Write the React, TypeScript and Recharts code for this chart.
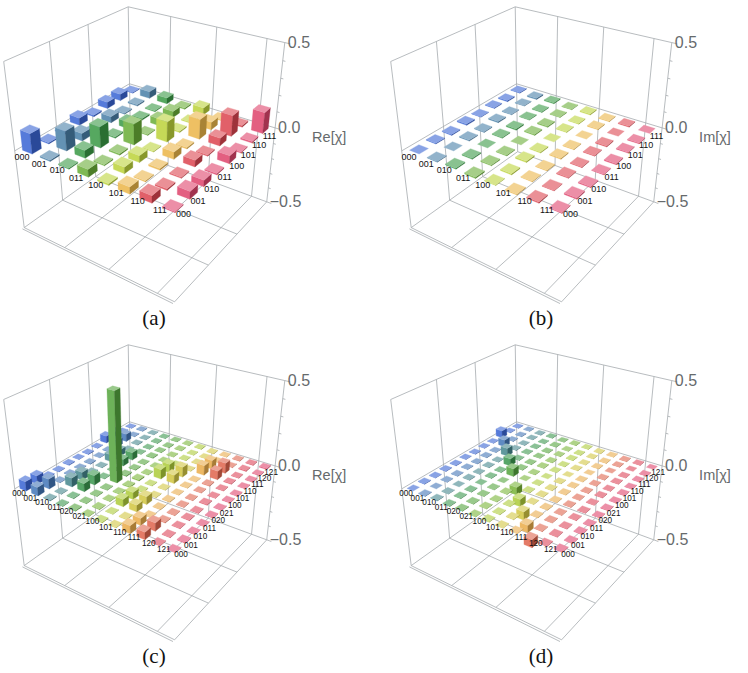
import React from 'react';
import { ScatterChart, Scatter, XAxis, YAxis } from 'recharts';

// basis state names along both floor axes
const basisQubits = ['000', '001', '010', '011', '100', '101', '110', '111'];
const basisMixed = ['000', '001', '010', '011', '020', '021', '100', '101', '110', '111', '120', '121'];

// (a) Re[chi], 8x8
const reChiA = [
  [0.120, 0.008, 0.006, 0.045, 0.010, 0.040, 0.042, 0.005],
  [0.008, 0.118, 0.046, 0.007, 0.038, 0.006, 0.009, 0.044],
  [0.006, 0.046, 0.125, 0.008, 0.041, 0.010, 0.006, 0.037],
  [0.045, 0.007, 0.008, 0.124, 0.005, 0.043, 0.039, 0.008],
  [0.010, 0.038, 0.041, 0.005, 0.121, 0.009, 0.007, 0.046],
  [0.040, 0.006, 0.010, 0.043, 0.009, 0.119, 0.047, 0.006],
  [0.042, 0.009, 0.006, 0.039, 0.007, 0.047, 0.126, 0.010],
  [0.005, 0.044, 0.037, 0.008, 0.046, 0.006, 0.010, 0.128],
];

// (b) Im[chi], 8x8
const imChiB = [
  [0, 0.004, -0.006, 0.008, -0.003, 0.005, -0.007, 0.004],
  [-0.004, 0, 0.006, -0.005, 0.007, -0.004, 0.003, -0.008],
  [0.006, -0.006, 0, 0.005, -0.008, 0.004, -0.005, 0.006],
  [-0.008, 0.005, -0.005, 0, 0.006, -0.007, 0.004, -0.003],
  [0.003, -0.007, 0.008, -0.006, 0, 0.005, -0.004, 0.007],
  [-0.005, 0.004, -0.004, 0.007, -0.005, 0, 0.006, -0.005],
  [0.007, -0.003, 0.005, -0.004, 0.004, -0.006, 0, 0.005],
  [-0.004, 0.008, -0.006, 0.003, -0.007, 0.005, -0.005, 0],
];

// (c) Re[chi], 12x12
const reChiC = [
  [0.055, 0.050, 0.004, -0.003, 0.005, 0.002, -0.004, 0.003, 0.045, 0.042, 0.003, -0.002],
  [0.050, 0.058, -0.003, 0.004, 0.003, -0.004, 0.002, 0.005, 0.040, 0.047, -0.003, 0.004],
  [0.004, -0.003, 0.052, 0.048, 0.004, 0.003, 0.043, 0.040, -0.002, 0.004, 0.003, 0.002],
  [-0.003, 0.004, 0.048, 0.056, -0.004, 0.005, 0.041, 0.046, 0.003, -0.003, 0.004, -0.002],
  [0.005, 0.003, 0.004, -0.004, 0.520, 0.006, 0.004, -0.003, 0.005, 0.003, -0.004, 0.003],
  [0.002, -0.004, 0.003, 0.005, 0.006, 0.008, -0.003, 0.004, 0.002, -0.003, 0.004, 0.003],
  [-0.004, 0.002, 0.043, 0.041, 0.004, -0.003, 0.057, 0.051, 0.004, 0.003, -0.002, 0.004],
  [0.003, 0.005, 0.040, 0.046, -0.003, 0.004, 0.051, 0.060, -0.003, 0.005, 0.003, -0.004],
  [0.045, 0.040, -0.002, 0.003, 0.005, 0.002, 0.004, -0.003, 0.058, 0.052, 0.004, 0.003],
  [0.042, 0.047, 0.004, -0.003, 0.003, -0.003, 0.003, 0.005, 0.052, 0.062, -0.003, 0.004],
  [0.003, -0.003, 0.003, 0.004, -0.004, 0.004, -0.002, 0.003, 0.004, -0.003, 0.006, 0.004],
  [-0.002, 0.004, 0.002, -0.002, 0.003, 0.003, 0.004, -0.004, 0.003, 0.004, 0.004, 0.007],
];

// (d) Im[chi], 12x12
const imChiD = [
  [0, 0.003, -0.002, 0.003, -0.003, 0.002, -0.003, 0.002, -0.002, 0.045, 0.003, -0.002],
  [-0.003, 0, 0.002, -0.003, 0.003, -0.002, 0.003, -0.003, 0.042, 0.002, -0.003, 0.002],
  [0.002, -0.002, 0, 0.003, -0.002, 0.003, -0.002, 0.048, 0.003, -0.002, 0.002, -0.003],
  [-0.003, 0.003, -0.003, 0, 0.002, -0.003, 0.044, -0.002, 0.003, 0.002, -0.002, 0.003],
  [0.003, -0.003, 0.002, -0.002, 0, 0.046, 0.003, -0.003, 0.002, -0.003, 0.003, -0.002],
  [-0.002, 0.002, -0.003, 0.003, -0.046, 0, -0.002, 0.003, -0.003, 0.002, -0.002, 0.003],
  [0.003, -0.003, 0.002, -0.044, -0.003, 0.002, 0, 0.002, -0.002, 0.003, -0.003, 0.002],
  [-0.002, 0.003, -0.048, 0.002, 0.003, -0.003, -0.002, 0, 0.003, -0.002, 0.002, -0.003],
  [0.002, -0.042, -0.003, -0.003, -0.002, 0.003, 0.002, -0.003, 0, 0.003, -0.003, 0.002],
  [-0.045, -0.002, 0.002, -0.002, 0.003, -0.002, -0.003, 0.002, -0.003, 0, 0.002, -0.003],
  [-0.003, 0.003, -0.002, 0.002, -0.003, 0.002, 0.003, -0.002, 0.003, -0.002, 0, 0.003],
  [0.002, -0.002, 0.003, -0.003, 0.002, -0.003, -0.002, 0.003, -0.002, 0.003, -0.003, 0],
];

const zTickValues = [-0.5, 0, 0.5];
const zTickLabels = ['\u22120.5', '0.0', '0.5'];
const zMinorTicks = [-0.4, -0.3, -0.2, -0.1, 0.1, 0.2, 0.3, 0.4];
const wallGridA = [0.3, 0.6, 0.9];
const wallGridB = [0.32, 0.63];

const CHART_W = 360;
const CHART_H = 305;
const VIEW = { az: -55, el: 30, dist: 3.4, scale: 635, cx: 149, cy: 139 };
const ROW_COLORS = ['#3a66d4', '#4a80a8', '#3b9a46', '#6aae38', '#bdd33c', '#ebb64a', '#dc4650', '#df456c'];
const GRID = '#a6abae';
const AXIS_TEXT = '#666a6c';

type P3 = [number, number, number];

// perspective camera looking at the unit box, box coords a,b in [0,1], z in [-0.5,0.5]
function project(a: number, b: number, z: number) {
  const az = (VIEW.az * Math.PI) / 180;
  const el = (VIEW.el * Math.PI) / 180;
  const cam = [
    VIEW.dist * Math.cos(el) * Math.cos(az),
    VIEW.dist * Math.cos(el) * Math.sin(az),
    VIEW.dist * Math.sin(el),
  ];
  const fwd = cam.map((c) => -c / VIEW.dist);
  const right = [-Math.sin(az), Math.cos(az), 0];
  const up = [-Math.cos(az) * Math.sin(el), -Math.sin(az) * Math.sin(el), Math.cos(el)];
  const v = [a - 0.5 - cam[0], b - 0.5 - cam[1], z - cam[2]];
  const dot = (p: number[], q: number[]) => p[0] * q[0] + p[1] * q[1] + p[2] * q[2];
  const depth = dot(v, fwd);
  return {
    x: VIEW.cx + (VIEW.scale * dot(v, right)) / depth,
    y: VIEW.cy - (VIEW.scale * dot(v, up)) / depth,
    depth,
  };
}

const hexRgb = (h: string) => {
  const v = parseInt(h.slice(1), 16);
  return [(v >> 16) & 255, (v >> 8) & 255, v & 255];
};
const mix = (c: number[], d: number[], t: number) => c.map((x, k) => Math.round(x + (d[k] - x) * t));
const rgb = (c: number[]) => `rgb(${c.join(',')})`;
const WHITE = [255, 255, 255];
const BLACK = [0, 0, 0];

function rowColor(i: number, n: number) {
  const t = (i * (ROW_COLORS.length - 1)) / (n - 1);
  const k = Math.min(Math.floor(t), ROW_COLORS.length - 2);
  return mix(hexRgb(ROW_COLORS[k]), hexRgb(ROW_COLORS[k + 1]), t - k);
}

function boxSegments(): [P3, P3][] {
  const s: [P3, P3][] = [];
  // back-left wall (a = 0)
  s.push([[0, 0, -0.5], [0, 0, 0.5]], [[0, 1, -0.5], [0, 1, 0.5]], [[0, 0, 0.5], [0, 1, 0.5]]);
  s.push([[0, 0, -0.5], [0, 1, -0.5]], [[0, 0, 0], [0, 1, 0]]);
  wallGridB.forEach((b) => s.push([[0, b, -0.5], [0, b, 0.5]], [[0, b, -0.5], [1, b, -0.5]]));
  // back-right wall (b = 1)
  s.push([[1, 1, -0.5], [1, 1, 0.5]], [[0, 1, 0.5], [1, 1, 0.5]], [[0, 1, -0.5], [1, 1, -0.5]], [[0, 1, 0], [1, 1, 0]]);
  wallGridA.forEach((a) => s.push([[a, 1, -0.5], [a, 1, 0.5]], [[a, 0, -0.5], [a, 1, -0.5]]));
  // floor front edges (the left one drawn twice, as box edge and axis)
  s.push([[0, 0, -0.5], [1, 0, -0.5]], [[0, -0.014, -0.5], [1, -0.014, -0.5]], [[1, 0, -0.5], [1, 1, -0.5]]);
  // z ticks on the right edge
  zTickValues.forEach((z) => s.push([[1, 1, z], [1.03, 1, z]]));
  zMinorTicks.forEach((z) => s.push([[1, 1, z], [1.015, 1, z]]));
  return s;
}

function buildBars(m: number[][]) {
  const n = m.length;
  const hw = 0.275 / n;
  const bars: any[] = [];
  m.forEach((row, i) =>
    row.forEach((v, j) => {
      const ac = (i + 0.5) / n;
      const bc = (j + 0.5) / n;
      const z0 = Math.min(0, v);
      const z1 = Math.max(0, v);
      const a0 = ac - hw, a1 = ac + hw, b0 = bc - hw, b1 = bc + hw;
      const anchor = project(ac, bc, 0);
      const rel = (pts: P3[]) =>
        pts.map((p) => {
          const q = project(p[0], p[1], p[2]);
          return [q.x - anchor.x, q.y - anchor.y];
        });
      const c = rowColor(i, n);
      bars.push({
        x: anchor.x,
        y: anchor.y,
        depth: anchor.depth,
        sides: z1 - z0 > 1e-6,
        top: rel([[a0, b0, z1], [a1, b0, z1], [a1, b1, z1], [a0, b1, z1]]),
        left: rel([[a0, b0, z0], [a1, b0, z0], [a1, b0, z1], [a0, b0, z1]]),
        right: rel([[a1, b0, z0], [a1, b1, z0], [a1, b1, z1], [a1, b0, z1]]),
        topFill: rgb(mix(c, WHITE, 0.4)),
        leftFill: rgb(mix(c, WHITE, 0.14)),
        rightFill: rgb(mix(c, BLACK, 0.28)),
      });
    })
  );
  return bars.sort((p, q) => q.depth - p.depth);
}

const NoDot = () => <g />;

const BarShape = (props: any) => {
  const { cx, cy, payload } = props;
  const pts = (f: number[][]) => f.map(([dx, dy]) => `${cx + dx},${cy + dy}`).join(' ');
  return (
    <g>
      {payload.sides && <polygon points={pts(payload.left)} fill={payload.leftFill} stroke={payload.leftFill} strokeWidth={0.3} />}
      {payload.sides && <polygon points={pts(payload.right)} fill={payload.rightFill} stroke={payload.rightFill} strokeWidth={0.3} />}
      <polygon points={pts(payload.top)} fill={payload.topFill} stroke={payload.topFill} strokeWidth={0.3} />
    </g>
  );
};

const TextMark = (props: any) => {
  const { cx, cy, payload } = props;
  return (
    <text
      x={cx + payload.dx}
      y={cy + payload.dy}
      textAnchor={payload.anchor}
      dominantBaseline="central"
      fontSize={payload.size}
      fill={payload.fill}
      fontFamily="'Liberation Sans', Arial, sans-serif"
    >
      {payload.text}
    </text>
  );
};

function Panel({ matrix, names, axisTitle, left, top, tag }: any) {
  const n = matrix.length;
  const catSize = n > 8 ? 8.2 : 9;
  const segs = boxSegments().map(([p, q]) => [project(p[0], p[1], p[2]), project(q[0], q[1], q[2])]);
  const bars = buildBars(matrix);
  // row labels sit a little above the front-left edge towards the front corner
  const rowLabels = names.map((t: string, i: number) => {
    const p = project((i + 0.5) / n, -0.025, 0);
    const f = i / (n - 1);
    return { x: p.x, y: p.y, text: t, anchor: 'middle', dx: 2 - 4 * f, dy: 0.5 - 6.5 * f, size: catSize, fill: '#111' };
  });
  const colLabels = names.map((t: string, j: number) => {
    const p = project(0.99, (j + 0.5) / n, 0);
    return { x: p.x, y: p.y, text: t, anchor: 'middle', dx: 1, dy: 4, size: catSize, fill: '#111' };
  });
  const zLabels = zTickValues.map((z, k) => {
    const p = project(1, 1, z);
    return { x: p.x, y: p.y, text: zTickLabels[k], anchor: 'start', dx: 3, dy: 0, size: 16, fill: AXIS_TEXT };
  });
  const title = (() => {
    const p = project(1, 1, 0);
    return [{ x: p.x, y: p.y, text: axisTitle, anchor: 'start', dx: 37, dy: 9, size: 14.5, fill: AXIS_TEXT }];
  })();

  return (
    <div style={{ position: 'absolute', left, top, width: CHART_W, height: CHART_H + 30 }}>
      <ScatterChart width={CHART_W} height={CHART_H} margin={{ top: 0, right: 0, bottom: 0, left: 0 }}>
        <XAxis type="number" dataKey="x" domain={[0, CHART_W]} hide allowDataOverflow />
        <YAxis type="number" dataKey="y" domain={[0, CHART_H]} reversed hide allowDataOverflow />
        {segs.map((seg, k) => (
          <Scatter
            key={`seg-${k}`}
            data={seg}
            line={{ stroke: GRID, strokeWidth: 0.8 }}
            shape={NoDot}
            isAnimationActive={false}
          />
        ))}
        <Scatter data={bars} shape={BarShape} isAnimationActive={false} />
        <Scatter data={rowLabels} shape={TextMark} isAnimationActive={false} />
        <Scatter data={colLabels} shape={TextMark} isAnimationActive={false} />
        <Scatter data={zLabels} shape={TextMark} isAnimationActive={false} />
        <Scatter data={title} shape={TextMark} isAnimationActive={false} />
      </ScatterChart>
      <div
        style={{
          position: 'absolute',
          left: 0,
          width: 308,
          top: CHART_H,
          lineHeight: '26px',
          textAlign: 'center',
          fontFamily: "'Liberation Serif', 'Times New Roman', serif",
          fontSize: 21,
          color: '#111',
        }}
      >
        ({tag})
      </div>
    </div>
  );
}

export default function App() {
  return (
    <div style={{ position: 'absolute', left: 0, top: 0, width: 748, height: 673, background: '#fff', overflow: 'hidden' }}>
      <Panel matrix={reChiA} names={basisQubits} axisTitle="Re[χ]" left={0} top={0} tag="a" />
      <Panel matrix={imChiB} names={basisQubits} axisTitle="Im[χ]" left={387} top={0} tag="b" />
      <Panel matrix={reChiC} names={basisMixed} axisTitle="Re[χ]" left={0} top={338} tag="c" />
      <Panel matrix={imChiD} names={basisMixed} axisTitle="Im[χ]" left={387} top={338} tag="d" />
    </div>
  );
}
